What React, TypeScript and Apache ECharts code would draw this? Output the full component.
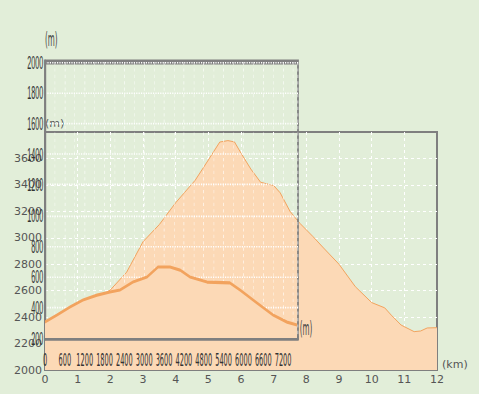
import React, { useEffect, useRef } from "react";
import * as echarts from "echarts";

// Main profile: distance (km) vs elevation (m)
const mainKm = [0, 0.5, 1, 1.5, 2, 2.5, 3, 3.5, 4, 4.6, 5, 5.35, 5.6, 5.8, 6, 6.3, 6.6, 7, 7.2, 7.5, 7.8, 8.2, 8.5, 9, 9.5, 10, 10.4, 10.6, 10.9, 11.3, 11.5, 11.7, 12];
const mainElev = [2360, 2410, 2470, 2530, 2605, 2740, 2970, 3100, 3265, 3436, 3588, 3724, 3735, 3725, 3640, 3520, 3420, 3395, 3340, 3200, 3110, 3010, 2930, 2800, 2630, 2510, 2470, 2415, 2340, 2290, 2295, 2318, 2320];

// Overlaid (squeezed) profile: distance (m) vs value (m)
const innerDist = [0, 363, 756, 1149, 1573, 1966, 2268, 2661, 3084, 3417, 3780, 4082, 4385, 4899, 5594, 5897, 6411, 6895, 7318, 7620];
const innerVal = [304, 350, 402, 448, 480, 500, 513, 565, 598, 663, 663, 643, 598, 565, 559, 513, 428, 350, 304, 285];

const BG = "#e2eed9";
const PEACH = "#fcd9b6";
const ORANGE = "#f2a35e";
const GRAY = "#7f7f7f";

const INNER_W = 492;
const INNER_H = 233;

const plain = (v: number) => String(v);

export default function App() {
  const mainRef = useRef<HTMLDivElement>(null);
  const innerRef = useRef<HTMLDivElement>(null);

  useEffect(() => {
    const main = echarts.init(mainRef.current as HTMLDivElement, null, { renderer: "svg", width: 479, height: 394 });
    main.setOption({
      animation: false,
      backgroundColor: BG,
      grid: { left: 45, right: 42, top: 132, bottom: 24, show: true, borderColor: GRAY, borderWidth: 2, backgroundColor: "transparent" },
      xAxis: {
        type: "value",
        min: 0,
        max: 12,
        interval: 1,
        name: "(km)",
        nameLocation: "end",
        nameGap: 5,
        nameTextStyle: { color: "#555", fontSize: 11, fontFamily: "DejaVu Sans", verticalAlign: "bottom", align: "left" },
        axisLine: { show: true, lineStyle: { color: GRAY, width: 2 } },
        axisTick: { show: false },
        axisLabel: { color: "#555", fontSize: 11, fontFamily: "DejaVu Sans", margin: 4, formatter: plain },
        splitLine: { show: true, showMinLine: false, showMaxLine: false, lineStyle: { color: "#ffffff", type: [3, 3], width: 1 } },
      },
      yAxis: {
        type: "value",
        min: 2000,
        max: 3800,
        interval: 200,
        name: "(m)",
        nameLocation: "end",
        nameGap: 3,
        nameTextStyle: { color: "#555", fontSize: 11, fontFamily: "DejaVu Sans", align: "left" },
        axisLine: { show: true, lineStyle: { color: GRAY, width: 2 } },
        axisTick: { show: false },
        axisLabel: { color: "#555", fontSize: 11, fontFamily: "DejaVu Sans", margin: 3, showMaxLabel: false, formatter: plain },
        splitLine: { show: true, showMinLine: false, showMaxLine: false, lineStyle: { color: "#ffffff", type: [3, 3], width: 1 } },
      },
      series: [
        {
          type: "line",
          data: mainKm.map((k, i) => [k, mainElev[i]]),
          showSymbol: false,
          lineStyle: { color: ORANGE, width: 1 },
          areaStyle: { color: PEACH, opacity: 1 },
        },
      ],
    });

    const inner = echarts.init(innerRef.current as HTMLDivElement, null, { renderer: "svg", width: INNER_W, height: INNER_H });
    inner.setOption({
      animation: false,
      backgroundColor: "transparent",
      grid: { left: 40, top: 30, width: 421.67, height: 172.5, show: true, borderColor: GRAY, borderWidth: 3, backgroundColor: "transparent" },
      xAxis: {
        type: "value",
        min: 0,
        max: 7650,
        interval: 600,
        name: "(m)",
        nameLocation: "end",
        nameGap: 3,
        nameTextStyle: { color: "#444", fontSize: 12, fontFamily: "DejaVu Sans", verticalAlign: "bottom", align: "left" },
        axisLine: { show: true, lineStyle: { color: GRAY, width: 3 } },
        axisTick: { show: false },
        axisLabel: { color: "#333", fontSize: 11, fontFamily: "DejaVu Sans", margin: 8, showMaxLabel: false, interval: 0, formatter: plain },
        splitLine: { show: true, lineStyle: { color: "#ffffff", type: [2, 2], width: 1 } },
        minorTick: { show: false, splitNumber: 2 },
        minorSplitLine: { show: true, lineStyle: { color: "#ffffff", type: [2, 2], width: 1, opacity: 0.7 } },
      },
      yAxis: {
        type: "value",
        min: 200,
        max: 2000,
        interval: 200,
        name: "(m)",
        nameLocation: "end",
        nameGap: 8,
        nameTextStyle: { color: "#444", fontSize: 12, fontFamily: "DejaVu Sans", align: "left" },
        axisLine: { show: true, lineStyle: { color: GRAY, width: 3 } },
        axisTick: { show: false },
        axisLabel: { color: "#333", fontSize: 12, fontFamily: "Liberation Sans", margin: 3, interval: 0, formatter: plain },
        splitLine: { show: true, lineStyle: { color: "#ffffff", type: [2, 2], width: 1 } },
      },
      series: [
        {
          type: "line",
          data: innerDist.map((d, i) => [d, innerVal[i]]),
          showSymbol: false,
          lineStyle: { color: ORANGE, width: 2 },
          areaStyle: { color: PEACH, opacity: 1, origin: "start" },
        },
      ],
    });

    return () => {
      main.dispose();
      inner.dispose();
    };
  }, []);

  return (
    <div style={{ position: "fixed", left: 0, top: 0, width: 479, height: 394, overflow: "hidden", background: BG }}>
      <div ref={mainRef} style={{ position: "absolute", left: 0, top: 0, width: 479, height: 394 }} />
      <div
        ref={innerRef}
        style={{
          position: "absolute",
          left: 21,
          top: 14,
          width: INNER_W,
          height: INNER_H,
          transform: "scale(0.6, 1.6)",
          transformOrigin: "0 0",
        }}
      />
    </div>
  );
}
